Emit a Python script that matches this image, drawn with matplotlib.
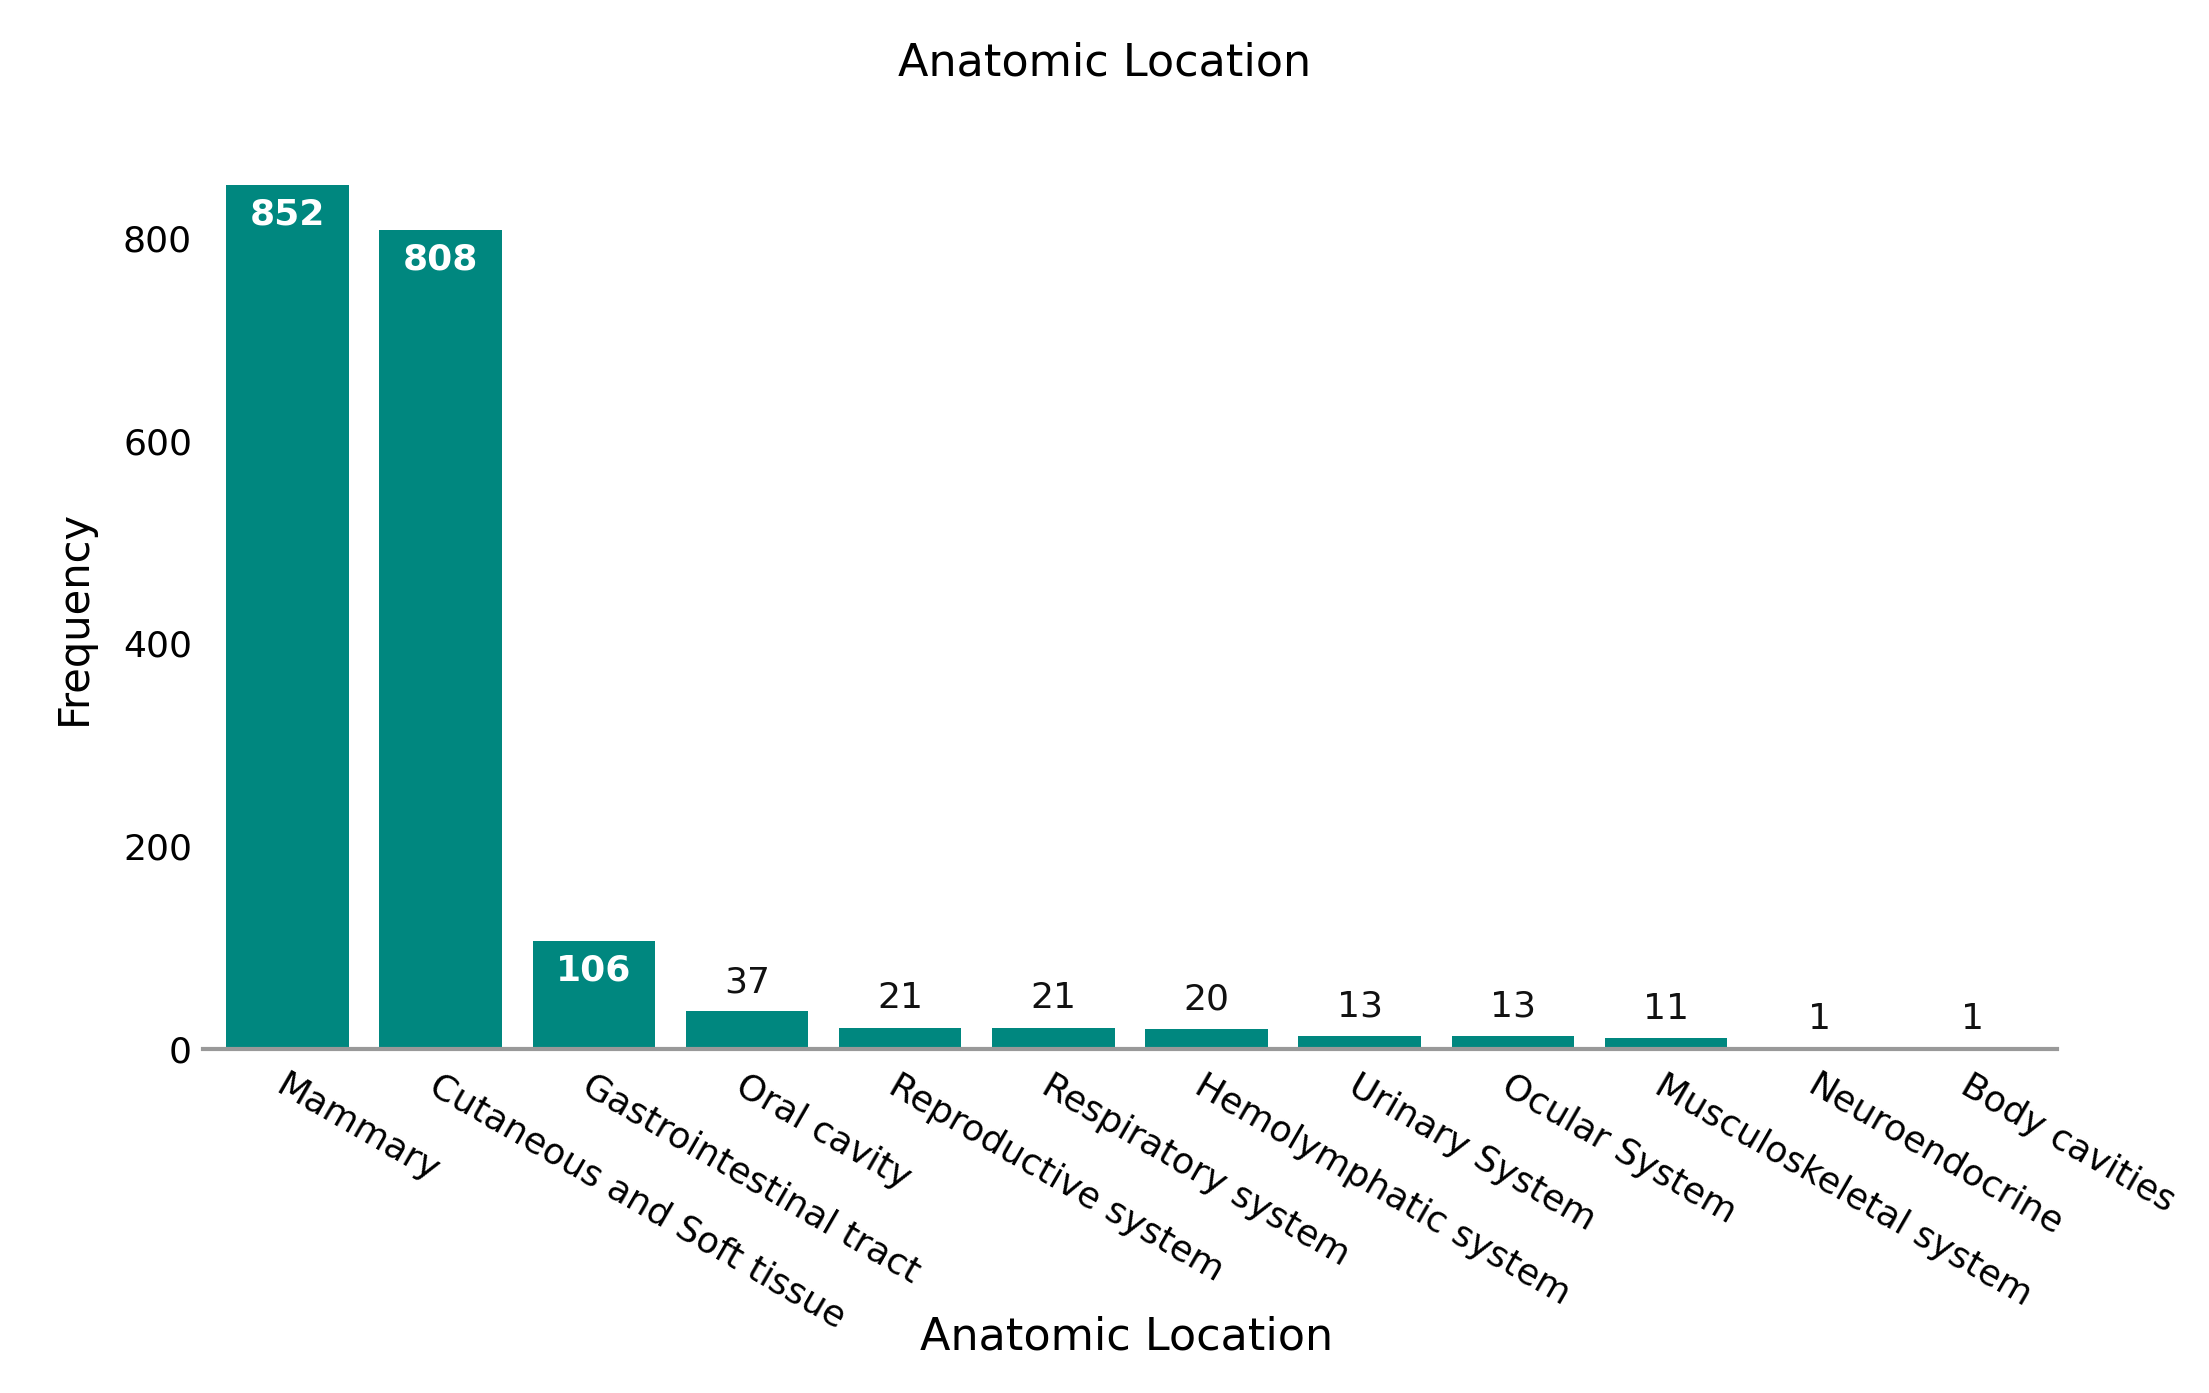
import matplotlib.pyplot as plt

categories = ['Mammary', 'Cutaneous and Soft tissue', 'Gastrointestinal tract',
              'Oral cavity', 'Reproductive system', 'Respiratory system',
              'Hemolymphatic system', 'Urinary System', 'Ocular System',
              'Musculoskeletal system', 'Neuroendocrine', 'Body cavities']
counts = [852, 808, 106, 37, 21, 21, 20, 13, 13, 11, 1, 1]

bar_color = '#00877f'

fig = plt.figure(figsize=(22.09, 13.93), dpi=100)
ax = fig.add_axes([0.092, 0.247, 0.839, 0.62])

x = range(len(categories))
bars = ax.bar(x, counts, width=0.8, color=bar_color)
ax.set_xlim(-0.55, len(categories) - 0.45)
ax.set_ylim(0, 852)

for xi, v in zip(x, counts):
    if v > 100:
        ax.text(xi, v - 12, str(v), ha='center', va='top', color='white',
                fontsize=26, fontweight='bold')
    else:
        ax.text(xi, v + 12, str(v), ha='center', va='bottom', color='#111111',
                fontsize=26)

ax.set_xticks(list(x))
ax.set_xticklabels(categories, rotation=-30, ha='left', va='top',
                   rotation_mode='anchor', fontsize=26)
ax.set_yticks([0, 200, 400, 600, 800])
ax.tick_params(axis='y', labelsize=26, length=0, pad=8)
ax.tick_params(axis='x', length=0, pad=14)

for s in ['top', 'right', 'left']:
    ax.spines[s].set_visible(False)
ax.spines['bottom'].set_color('#999999')
ax.spines['bottom'].set_linewidth(3)

ax.set_ylabel('Frequency', fontsize=30, labelpad=20)
fig.text(0.51, 0.025, 'Anatomic Location', ha='center', va='bottom', fontsize=32)
fig.text(0.5, 0.97, 'Anatomic Location', ha='center', va='top', fontsize=32)

fig.savefig('out.png', dpi=100)
